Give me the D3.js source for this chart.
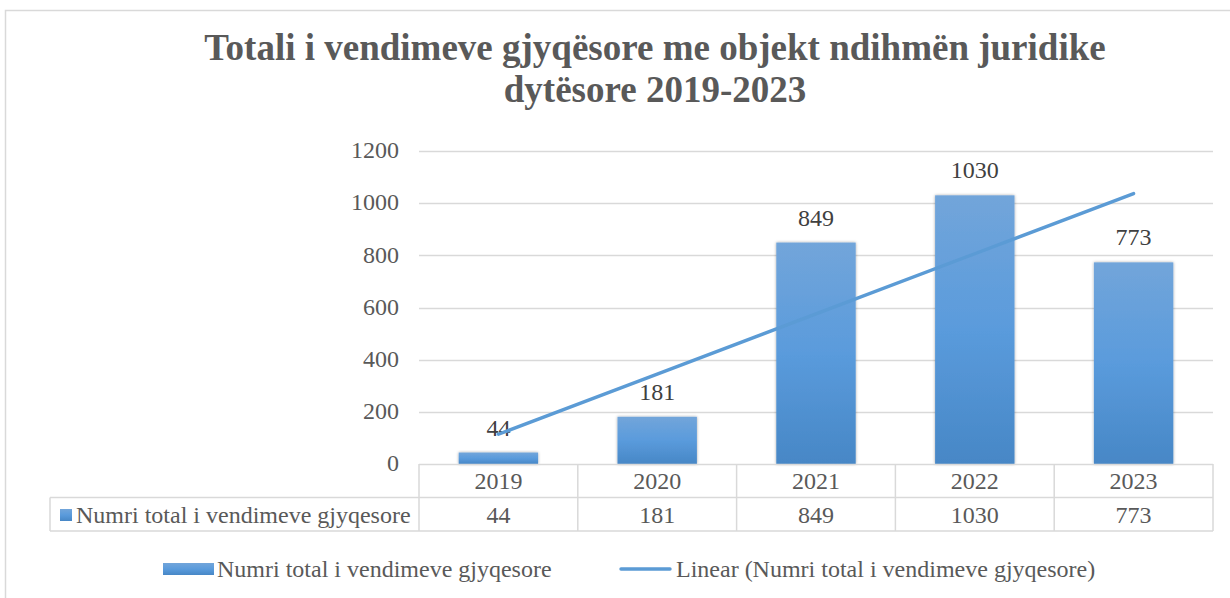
<!DOCTYPE html>
<html><head><meta charset="utf-8">
<script src="https://cdn.jsdelivr.net/npm/d3@7"></script>
<style>html,body{margin:0;padding:0;background:#fff;}svg{display:block;}</style>
</head><body>
<svg id="c" width="1230" height="598"></svg>
<script>
const titleLines = ["Totali i vendimeve gjyqësore me objekt ndihmën juridike", "dytësore 2019-2023"];
const categories = ["2019", "2020", "2021", "2022", "2023"];
const values = [44, 181, 849, 1030, 773];
const yTicks = [0, 200, 400, 600, 800, 1000, 1200];
const seriesName = "Numri total i vendimeve gjyqesore";
const trendName = "Linear (Numri total i vendimeve gjyqesore)";

(function () {
const svg = d3.select("#c");
const font = "'Liberation Serif','Times New Roman',serif";
const textCol = "#595959";
const grid = "#d9d9d9";
const fs = 24;

// chart border
svg.append("rect").attr("x", 5.5).attr("y", 10.5).attr("width", 1240).attr("height", 600)
  .attr("fill", "none").attr("stroke", grid).attr("stroke-width", 1.5);

const defs = svg.append("defs");
const g1 = defs.append("linearGradient").attr("id", "bg").attr("x1", 0).attr("y1", 0).attr("x2", 0).attr("y2", 1);
g1.append("stop").attr("offset", "0%").attr("stop-color", "#72a5da");
g1.append("stop").attr("offset", "50%").attr("stop-color", "#5a9bdc");
g1.append("stop").attr("offset", "100%").attr("stop-color", "#4787c6");
const f = defs.append("filter").attr("id", "sh").attr("x", "-20%").attr("y", "-20%").attr("width", "140%").attr("height", "140%");
f.append("feDropShadow").attr("dx", 0).attr("dy", 0).attr("stdDeviation", 1.5).attr("flood-color", "#000").attr("flood-opacity", 0.35);

// title
svg.append("text").attr("x", 655).attr("y", 60).attr("text-anchor", "middle")
  .attr("font-family", font).attr("font-weight", "bold").attr("font-size", 37).attr("fill", textCol)
  .selectAll("tspan").data(titleLines).join("tspan")
  .attr("x", 655).attr("dy", (d, i) => i ? 42 : 0).text(d => d);

const pLeft = 419, pRight = 1213, pTop = 151, pBottom = 464;
const x = d3.scaleBand().domain(categories).range([pLeft, pRight]).paddingInner(0.5).paddingOuter(0.25);
const xc = d3.scaleBand().domain(categories).range([pLeft, pRight]);
const y = d3.scaleLinear().domain([0, 1200]).range([pBottom, pTop]);

// gridlines
svg.append("g").selectAll("line").data(yTicks.filter(d => d > 0)).join("line")
  .attr("x1", pLeft).attr("x2", pRight).attr("y1", d => Math.round(y(d)) + 0.5).attr("y2", d => Math.round(y(d)) + 0.5)
  .attr("stroke", grid).attr("stroke-width", 1.3);

// y axis labels
const yAxis = d3.axisLeft(y).tickValues(yTicks).tickFormat(d3.format("d")).tickSize(0).tickPadding(20);
const ya = svg.append("g").attr("transform", `translate(${pLeft},0)`).call(yAxis)
  .attr("font-family", font).attr("font-size", fs);
ya.select(".domain").remove();
ya.selectAll("text").attr("font-family", font).attr("font-size", fs).attr("fill", textCol).attr("dy", "0.28em");

// bars
svg.append("g").selectAll("rect").data(values).join("rect")
  .attr("x", (d, i) => x(categories[i])).attr("width", x.bandwidth())
  .attr("y", d => y(d)).attr("height", d => pBottom - y(d))
  .attr("fill", "url(#bg)").attr("filter", "url(#sh)");

// data labels
svg.append("g").selectAll("text").data(values).join("text")
  .attr("x", (d, i) => xc(categories[i]) + xc.bandwidth() / 2).attr("y", d => y(d) - 17)
  .attr("text-anchor", "middle").attr("font-family", font).attr("font-size", fs).attr("fill", "#404040")
  .text(d => d);

// trendline (least squares)
const xs = values.map((d, i) => i + 1);
const mx = d3.mean(xs), my = d3.mean(values);
const slope = d3.sum(xs.map((xv, i) => (xv - mx) * (values[i] - my))) / d3.sum(xs.map(xv => (xv - mx) ** 2));
const icpt = my - slope * mx;
const trend = xs.map(xv => icpt + slope * xv);
svg.append("path").datum(trend)
  .attr("d", d3.line().x((d, i) => xc(categories[i]) + xc.bandwidth() / 2).y(d => y(d)))
  .attr("fill", "none").attr("stroke", "#5b9bd5").attr("stroke-width", 3.4).attr("stroke-linecap", "round");

// data table
const tb = svg.append("g");
const rowMid = 497.5, rowBot = 531;
const tcol = "#d9d9d9";
tb.append("line").attr("x1", pLeft).attr("x2", pRight).attr("y1", pBottom + 0.5).attr("y2", pBottom + 0.5).attr("stroke", tcol).attr("stroke-width", 1.5);
tb.append("line").attr("x1", 50).attr("x2", pRight).attr("y1", rowMid).attr("y2", rowMid).attr("stroke", tcol).attr("stroke-width", 1.5);
tb.append("line").attr("x1", 50).attr("x2", pRight).attr("y1", rowBot).attr("y2", rowBot).attr("stroke", tcol).attr("stroke-width", 1.5);
tb.append("line").attr("x1", 50).attr("x2", 50).attr("y1", rowMid).attr("y2", rowBot).attr("stroke", tcol).attr("stroke-width", 1.5);
const bounds = categories.map(c => xc(c)).concat([pRight]);
tb.selectAll("line.v").data(bounds).join("line").attr("class", "v")
  .attr("x1", d => d).attr("x2", d => d).attr("y1", pBottom).attr("y2", rowBot).attr("stroke", tcol).attr("stroke-width", 1.5);
tb.selectAll("text.cat").data(categories).join("text").attr("class", "cat")
  .attr("x", d => xc(d) + xc.bandwidth() / 2).attr("y", 489).attr("text-anchor", "middle")
  .attr("font-family", font).attr("font-size", fs).attr("fill", textCol).text(d => d);
tb.selectAll("text.val").data(values).join("text").attr("class", "val")
  .attr("x", (d, i) => xc(categories[i]) + xc.bandwidth() / 2).attr("y", 523).attr("text-anchor", "middle")
  .attr("font-family", font).attr("font-size", fs).attr("fill", textCol).text(d => d);
tb.append("rect").attr("x", 60).attr("y", 509).attr("width", 12).attr("height", 12).attr("fill", "url(#bg)");
tb.append("text").attr("x", 76).attr("y", 523).attr("font-family", font).attr("font-size", fs).attr("fill", textCol).text(seriesName);

// legend
const lg = svg.append("g");
lg.append("rect").attr("x", 163).attr("y", 563).attr("width", 51).attr("height", 12).attr("fill", "url(#bg)");
lg.append("text").attr("x", 217).attr("y", 577).attr("font-family", font).attr("font-size", fs).attr("fill", textCol).text(seriesName);
lg.append("line").attr("x1", 621).attr("x2", 670).attr("y1", 569).attr("y2", 569).attr("stroke", "#5b9bd5").attr("stroke-width", 3.4).attr("stroke-linecap", "round");
lg.append("text").attr("x", 676).attr("y", 577).attr("font-family", font).attr("font-size", fs).attr("fill", textCol).text(trendName);
})();
</script>
</body></html>
